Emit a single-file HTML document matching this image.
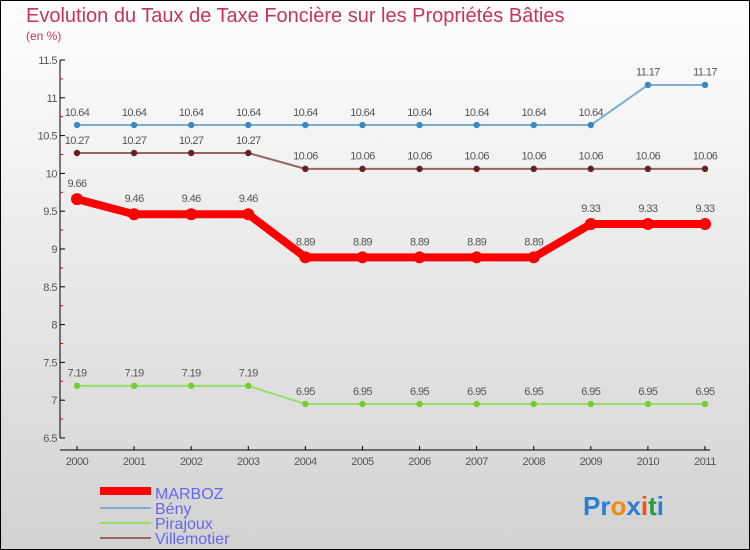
<!DOCTYPE html>
<html><head><meta charset="utf-8"><style>
body{margin:0}
svg{display:block;font-family:"Liberation Sans",sans-serif}
</style></head><body>
<svg id="c" width="750" height="550" xmlns="http://www.w3.org/2000/svg">
<defs><linearGradient id="bg" x1="0" y1="0" x2="0" y2="1"><stop offset="0" stop-color="#ffffff"/><stop offset="1" stop-color="#d2d2d2"/></linearGradient></defs>
<rect x="0.5" y="0.5" width="749" height="549" fill="url(#bg)" stroke="#000"/>
<text x="26" y="22" font-size="20" fill="#c8325f">Evolution du Taux de Taxe Foncière sur les Propriétés Bâties</text>
<text x="26" y="40" font-size="12" fill="#c8325f">(en %)</text>
<g id="axes"></g><g id="series"></g>
<g>
<rect x="100" y="487" width="51" height="8" fill="#f00"/>
<text x="155" y="499" font-size="16" fill="#6666ee">MARBOZ</text>
<rect x="100" y="507" width="51" height="2" fill="#7aaed0"/>
<text x="155" y="514" font-size="16" fill="#6666ee">Bény</text>
<rect x="100" y="522" width="51" height="2" fill="#99dd66"/>
<text x="155" y="529" font-size="16" fill="#6666ee">Pirajoux</text>
<rect x="100" y="537" width="51" height="2" fill="#996666"/>
<text x="155" y="544" font-size="16" fill="#6666ee">Villemotier</text>
</g>
<text x="583" y="515" font-size="26" font-weight="bold"><tspan fill="#2a7fd0">Pr</tspan><tspan fill="#f08a10">o</tspan><tspan fill="#2a7fd0">x</tspan><tspan fill="#f05010">i</tspan><tspan fill="#2a9a40">t</tspan><tspan fill="#2a7fd0">i</tspan></text>
</svg>
<script>
const years=[2000,2001,2002,2003,2004,2005,2006,2007,2008,2009,2010,2011];
const yTicks=[6.5,7,7.5,8,8.5,9,9.5,10,10.5,11,11.5];
const marboz=[9.66,9.46,9.46,9.46,8.89,8.89,8.89,8.89,8.89,9.33,9.33,9.33];
const beny=[10.64,10.64,10.64,10.64,10.64,10.64,10.64,10.64,10.64,10.64,11.17,11.17];
const pirajoux=[7.19,7.19,7.19,7.19,6.95,6.95,6.95,6.95,6.95,6.95,6.95,6.95];
const villemotier=[10.27,10.27,10.27,10.27,10.06,10.06,10.06,10.06,10.06,10.06,10.06,10.06];
const NS="http://www.w3.org/2000/svg";
const x=i=>77+i*(628/11);
const y=v=>438-(v-6.5)*75.6;
function mk(tag,attrs,parent){const e=document.createElementNS(NS,tag);for(const k in attrs)e.setAttribute(k,attrs[k]);parent.appendChild(e);return e;}
const ax=document.getElementById('axes'),sr=document.getElementById('series');
let e=mk('line',{x1:60,y1:60,x2:60,y2:438,stroke:'#000'},ax);


e=mk('line',{x1:60,y1:450,x2:710,y2:450,stroke:'#000'},ax);


yTicks.forEach((t,i)=>{
 mk('line',{x1:60,y1:y(t),x2:65,y2:y(t),stroke:'#000'},ax);
 if(i<yTicks.length-1)mk('line',{x1:60,y1:y(t+0.25),x2:63,y2:y(t+0.25),stroke:'#d00'},ax);
 const tx=mk('text',{x:57,y:y(t)+4,'font-size':11,fill:'#555','text-anchor':'end','letter-spacing':'-0.5'},ax);
 tx.textContent=String(t);
 
 
});
years.forEach((yr,i)=>{
 mk('line',{x1:x(i),y1:446,x2:x(i),y2:450,stroke:'#000'},ax);
 const tx=mk('text',{x:x(i),y:465,'font-size':11,fill:'#555','text-anchor':'middle','letter-spacing':'-0.5'},ax);
 tx.textContent=String(yr);
 
 
});
function series(name,data,color,w,r,dot){
 const g=mk('g',{},sr);
 
 
 const p=mk('polyline',{points:data.map((v,i)=>x(i)+','+y(v)).join(' '),fill:'none',stroke:color,'stroke-width':w,'stroke-linejoin':'round'},g);
 
 
 data.forEach((v,i)=>{
  const c=mk('circle',{cx:x(i),cy:y(v),r:r,fill:dot},g);
  
  
  const t=mk('text',{x:x(i),y:y(v)-(r+6),'font-size':11,fill:'#555','text-anchor':'middle','letter-spacing':'-0.6'},g);
  t.textContent=v.toFixed(2);
  
  
 });
}
series('pirajoux',pirajoux,'#99dd66',2,3.2,'#77cc33');
series('villemotier',villemotier,'#996666',2,3.2,'#662222');
series('beny',beny,'#7aaed0',2,3.2,'#3a88c8');
series('marboz',marboz,'#f00',8,6,'#f00');
</script>
</body></html>
